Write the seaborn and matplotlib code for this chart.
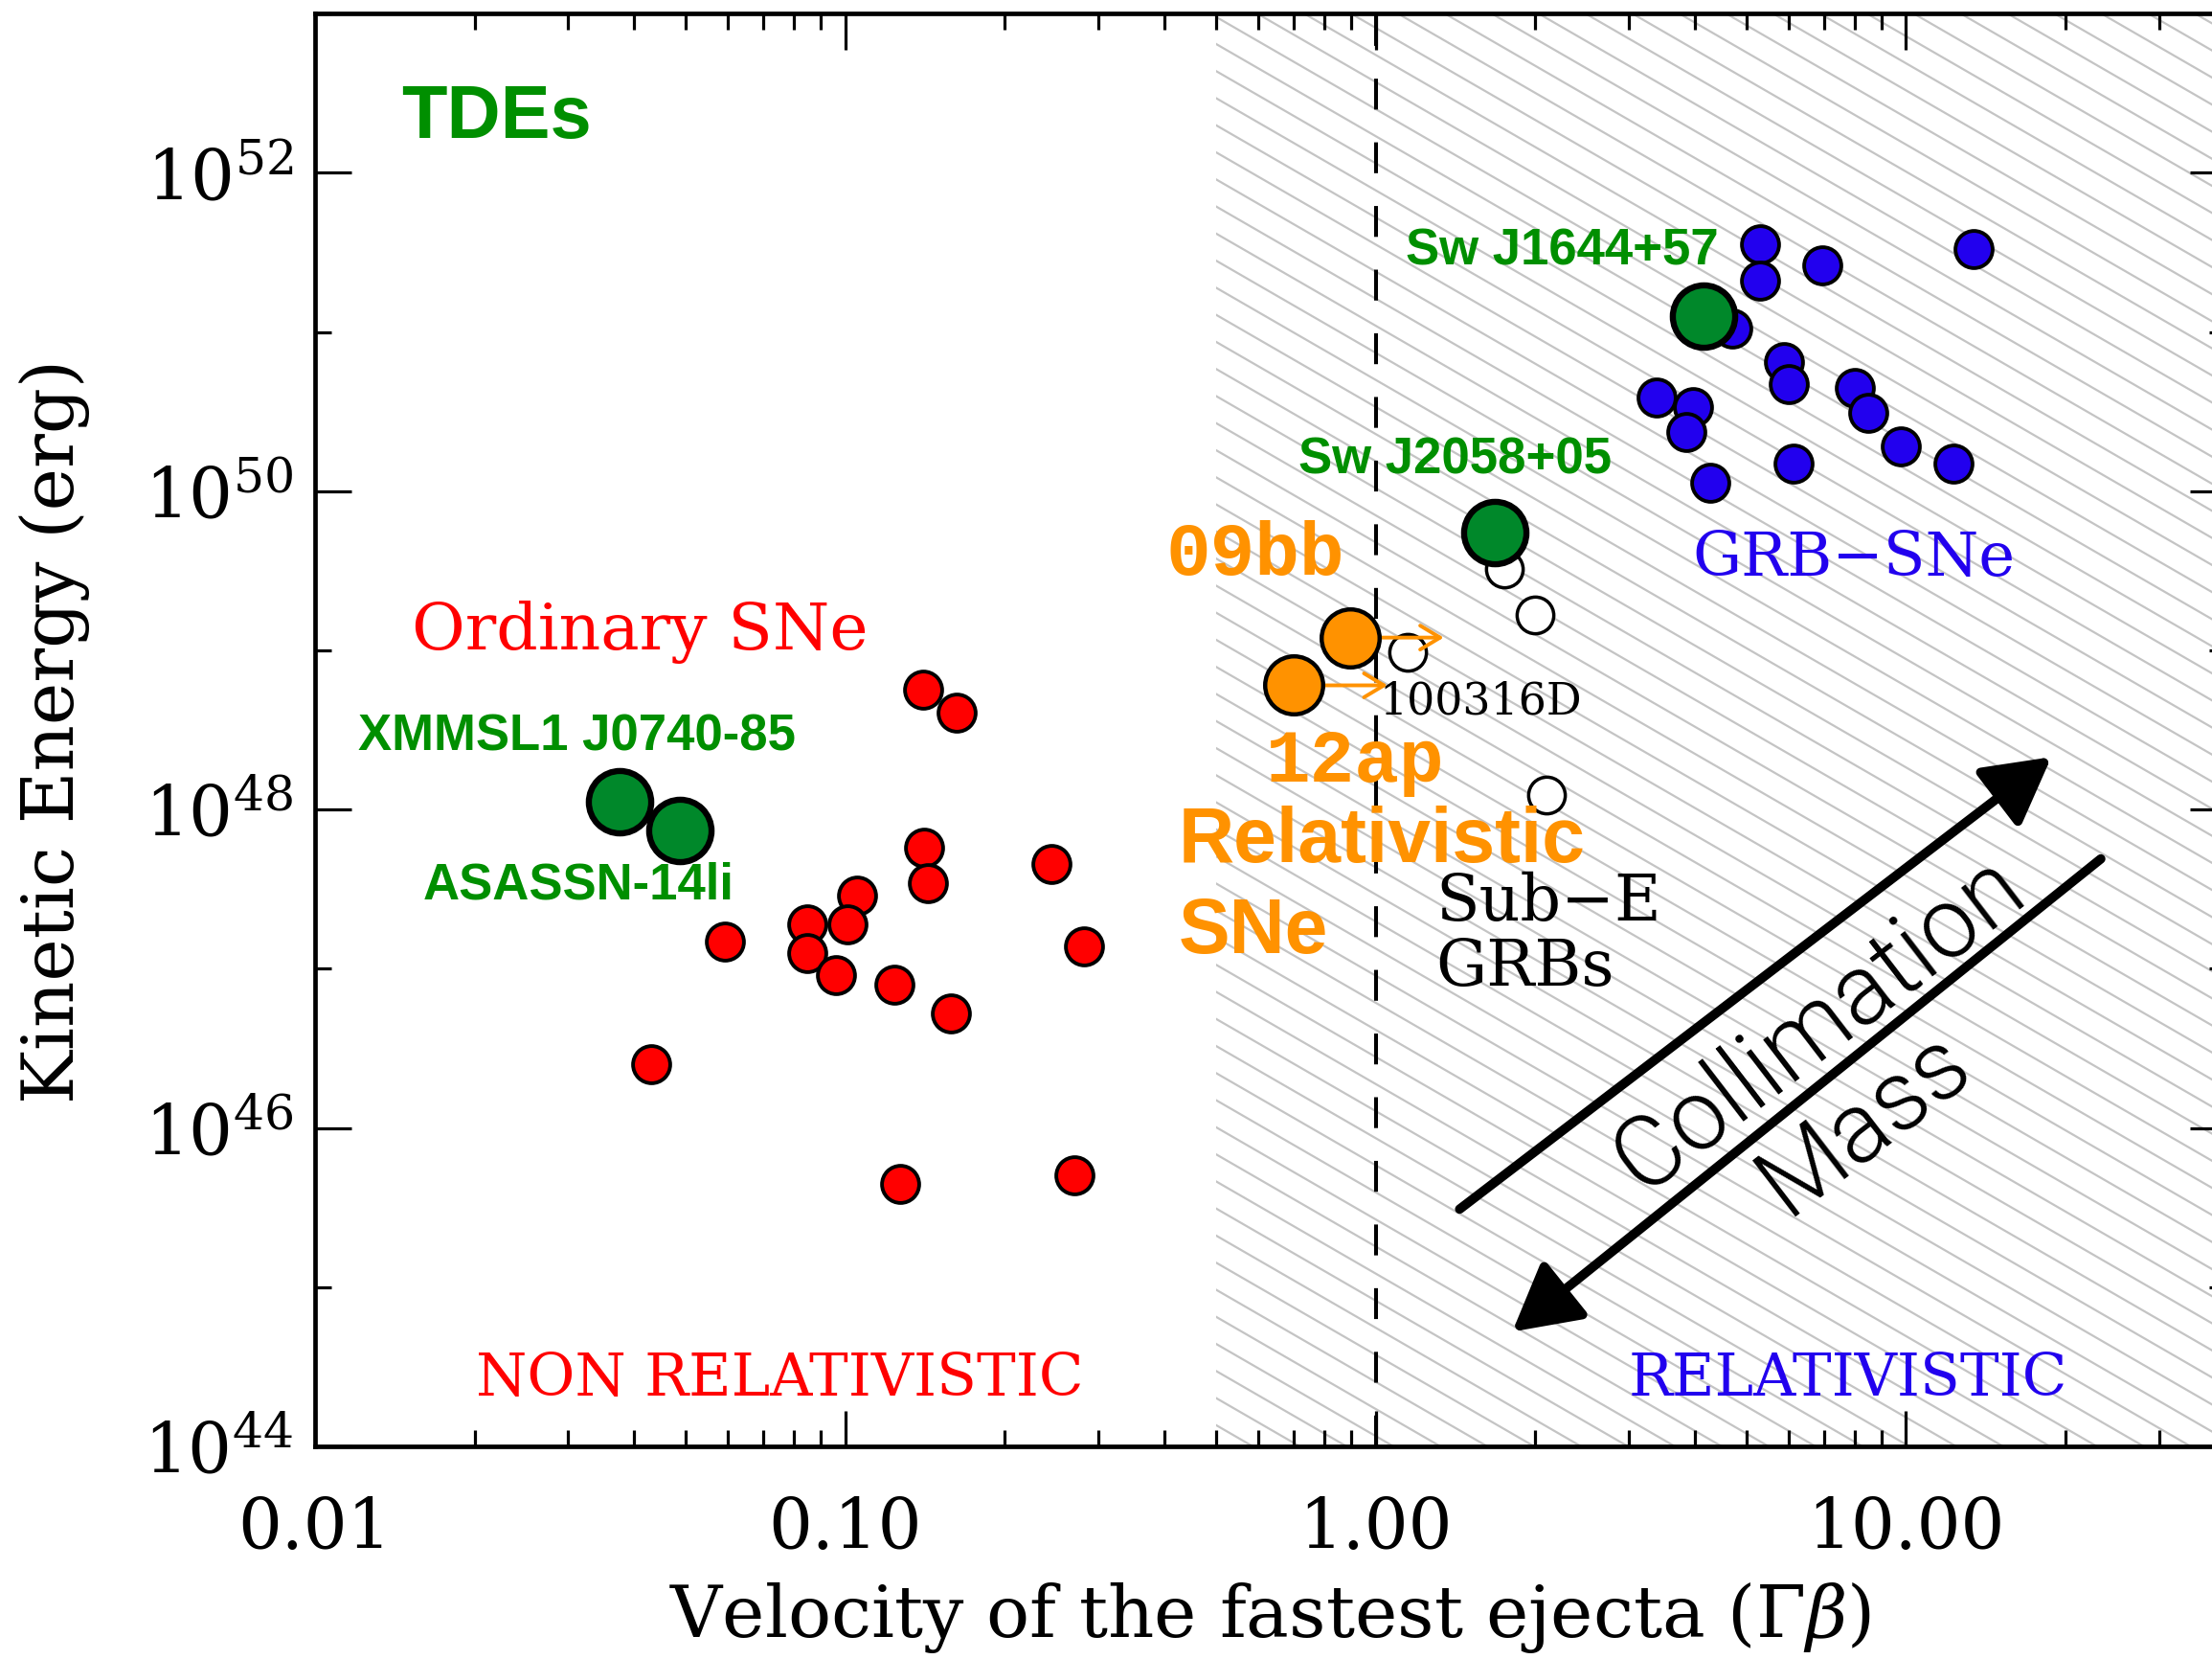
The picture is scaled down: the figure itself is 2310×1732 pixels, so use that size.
import numpy as np
import seaborn as sns
import matplotlib.pyplot as plt
from matplotlib.collections import LineCollection
from matplotlib.ticker import FixedLocator, LogLocator, NullFormatter

# Ordinary SNe (red)
sn_x = [0.140, 0.162, 0.141, 0.143, 0.105, 0.0847, 0.101, 0.0594, 0.0847,
        0.096, 0.1236, 0.245, 0.282, 0.158, 0.043, 0.1267, 0.27]
sn_logE = [48.75, 48.61, 47.76, 47.54, 47.46, 47.28, 47.28, 47.17, 47.10,
           46.96, 46.90, 47.66, 47.14, 46.72, 46.40, 45.65, 45.70]

# GRB-SNe (blue)
grb_x = [5.3, 13.4, 6.95, 5.3, 4.7, 5.89, 6.0, 8.0, 3.38, 3.96, 8.5, 3.86,
         9.78, 6.15, 12.3, 4.28]
grb_logE = [51.55, 51.52, 51.42, 51.32, 51.02, 50.81, 50.67, 50.65, 50.59,
            50.53, 50.49, 50.37, 50.28, 50.17, 50.17, 50.05]

# sub-energetic GRBs (open)
subE_x = [1.745, 2.0, 1.15, 2.1]
subE_logE = [49.51, 49.22, 48.99, 48.09]

# relativistic SNe 2009bb, 2012ap (lower limits on velocity)
rel_x = [0.896, 0.702]
rel_logE = [49.08, 48.78]
arrow_factor = 1.5

# TDEs
tde_names = ['XMMSL1 J0740-85', 'ASASSN-14li', 'Sw J2058+05', 'Sw J1644+57']
tde_x = [0.0375, 0.0488, 1.68, 4.15]
tde_logE = [48.05, 47.87, 49.74, 51.10]

x_ticks = [0.01, 0.1, 1.0, 10.0]
x_ticklabels = ['0.01', '0.10', '1.00', '10.00']
y_ticks = [1e44, 1e46, 1e48, 1e50, 1e52]
y_ticklabels = [r'$10^{44}$', r'$10^{46}$', r'$10^{48}$', r'$10^{50}$', r'$10^{52}$']

RED = '#ff0000'
BLUE = '#2200ee'
GREEN = '#00882a'
GREEN_TXT = '#008f00'
ORANGE = '#ff9200'

sns.set_style('white')
plt.rcParams['font.family'] = ['DejaVu Serif']
plt.rcParams['mathtext.fontset'] = 'dejavuserif'
plt.rcParams['text.color'] = 'k'
plt.rcParams['axes.labelcolor'] = 'k'

fig = plt.figure(figsize=(23.1, 17.33), dpi=100)
ax = fig.add_axes([0.1424, 0.1281, 0.8636, 0.8632])
ax.set_xscale('log')
ax.set_yscale('log')
ax.set_xlim(0.01, 40)
ax.set_ylim(1e44, 1e53)

# hatched relativistic region (lines at ~30 deg)
span = ax.axvspan(0.5, 40, facecolor='none', edgecolor='none', zorder=0)
pos = ax.get_position()
w_px = pos.width * fig.get_figwidth()
h_px = pos.height * fig.get_figheight()
k = np.tan(np.radians(30)) * w_px / h_px
step = 0.0189
offs = np.arange(0, 1 + k + step, step)
segs = [[(0, c), (1, c - k)] for c in offs]
hatch = LineCollection(segs, colors='#c4c4c4', linewidths=1.6,
                       transform=ax.transAxes, zorder=0.5)
ax.add_collection(hatch)
hatch.set_clip_path(span)

ax.axvline(1.0, color='k', lw=2.9, ls=(0, (8, 8.5)), zorder=1)

sns.scatterplot(x=sn_x, y=10 ** np.array(sn_logE), ax=ax, s=780, color=RED,
                edgecolor='k', linewidth=2.8, zorder=3)
sns.scatterplot(x=grb_x, y=10 ** np.array(grb_logE), ax=ax, s=780, color=BLUE,
                edgecolor='k', linewidth=2.8, zorder=3)
sns.scatterplot(x=subE_x, y=10 ** np.array(subE_logE), ax=ax, s=760, color='white',
                edgecolor='k', linewidth=2.5, zorder=3)

for x, le in zip(rel_x, rel_logE):
    ax.annotate('', xy=(x * arrow_factor, 10 ** le), xytext=(x, 10 ** le),
                arrowprops=dict(arrowstyle='->,head_length=0.5,head_width=0.3',
                                color=ORANGE, lw=2.8, mutation_scale=30,
                                shrinkA=0, shrinkB=0), zorder=3.5)
sns.scatterplot(x=rel_x, y=10 ** np.array(rel_logE), ax=ax, s=1900, color=ORANGE,
                edgecolor='k', linewidth=3.2, zorder=4)
sns.scatterplot(x=tde_x, y=10 ** np.array(tde_logE), ax=ax, s=2200, color=GREEN,
                edgecolor='k', linewidth=4.6, zorder=5)

# labels
sans = ['Liberation Sans', 'DejaVu Sans']
ax.text(0.01456, 10 ** 52.35, 'TDEs', color=GREEN_TXT, fontsize=56, weight='bold',
        family=sans, va='center')
for name, lx, ly in zip(tde_names, [0.01205, 0.01596, 0.715, 1.14],
                        [48.46, 47.53, 50.20, 51.51]):
    ax.text(lx, 10 ** ly, name, color=GREEN_TXT, fontsize=38, weight='bold',
            family=sans, va='center')

mono = ['Liberation Mono', 'DejaVu Sans Mono']
ax.text(0.402, 10 ** 49.60, '09bb', color=ORANGE, fontsize=56, weight='bold',
        family=mono, va='center')
ax.text(0.621, 10 ** 48.30, '12ap', color=ORANGE, fontsize=56, weight='bold',
        family=mono, va='center')
ax.text(0.425, 10 ** 47.80, 'Relativistic', color=ORANGE, fontsize=58,
        weight='bold', family=sans, va='center')
ax.text(0.425, 10 ** 47.23, 'SNe', color=ORANGE, fontsize=58,
        weight='bold', family=sans, va='center')

ax.text(1.018, 10 ** 48.68, '100316D', color='k', fontsize=33, va='center')
ax.text(1.30, 10 ** 47.42, 'Sub\u2212E', color='k', fontsize=48, va='center')
ax.text(1.30, 10 ** 47.01, 'GRBs', color='k', fontsize=48, va='center')
ax.text(0.0152, 10 ** 49.12, 'Ordinary SNe', color=RED, fontsize=49, va='center')
ax.text(3.96, 10 ** 49.58, 'GRB\u2212SNe', color=BLUE, fontsize=46, va='center')
ax.text(0.0201, 10 ** 44.43, 'NON RELATIVISTIC', color=RED, fontsize=44, va='center')
ax.text(3.0, 10 ** 44.43, 'RELATIVISTIC', color=BLUE, fontsize=44, va='center')

# collimation / mass arrows
ax.annotate('', xy=(18.8, 10 ** 48.33), xytext=(1.44, 10 ** 45.49),
            arrowprops=dict(arrowstyle='-|>,head_length=0.4,head_width=0.22',
                            color='k', lw=7, mutation_scale=105,
                            shrinkA=0, shrinkB=0), zorder=6)
ax.annotate('', xy=(1.81, 10 ** 44.72), xytext=(23.3, 10 ** 47.69),
            arrowprops=dict(arrowstyle='-|>,head_length=0.4,head_width=0.22',
                            color='k', lw=7, mutation_scale=105,
                            shrinkA=0, shrinkB=0), zorder=6)
light = ['Roboto', 'DejaVu Sans']
ax.text(6.86, 10 ** 46.66, 'Collimation', fontsize=74, family=light, weight=300,
        color='k', rotation=37.5, ha='center', va='center', rotation_mode='anchor')
ax.text(8.34, 10 ** 46.04, 'Mass', fontsize=74, family=light, weight=300,
        color='k', rotation=37.5, ha='center', va='center', rotation_mode='anchor')

# axes styling
ax.xaxis.set_major_locator(FixedLocator(x_ticks))
ax.set_xticklabels(x_ticklabels)
ax.xaxis.set_minor_locator(LogLocator(base=10, subs=np.arange(2, 10)))
ax.xaxis.set_minor_formatter(NullFormatter())
ax.yaxis.set_major_locator(FixedLocator(y_ticks))
ax.set_yticklabels(y_ticklabels)
ax.yaxis.set_minor_locator(FixedLocator([1e45, 1e47, 1e49, 1e51, 1e53]))
ax.yaxis.set_minor_formatter(NullFormatter())
ax.tick_params(which='both', direction='in', top=True, right=True, bottom=True,
               left=True, width=2.3, colors='k', labelsize=52)
ax.tick_params(which='major', length=27)
ax.tick_params(which='minor', length=12)
ax.tick_params(axis='x', which='major', pad=36)
ax.tick_params(axis='y', which='major', pad=16)
for sp in ax.spines.values():
    sp.set_linewidth(3.4)
    sp.set_color('k')

ax.set_xlabel(r'Velocity of the fastest ejecta ($\Gamma\beta$)', fontsize=54,
              va='top')
ax.xaxis.set_label_coords(0.5, -0.093)
ax.set_ylabel('Kinetic Energy (erg)', fontsize=54)
ax.yaxis.set_label_coords(-0.118, 0.5)

fig.savefig('out.png', dpi=100)
